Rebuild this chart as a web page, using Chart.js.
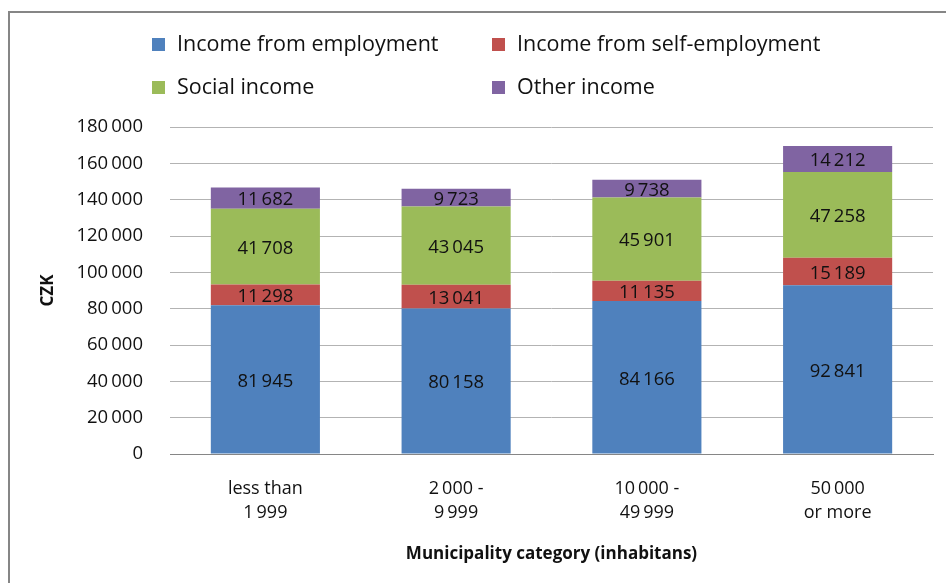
<!DOCTYPE html>
<html>
<head>
<meta charset="utf-8">
<script src="https://cdn.jsdelivr.net/npm/chart.js@4.4.1/dist/chart.umd.min.js"></script>
<style>
  html, body { margin: 0; padding: 0; background: #fff; overflow: hidden; }
  #wrap { width: 946px; height: 583px; position: relative; }
</style>
</head>
<body>
<div id="wrap"><canvas id="incomeChart" width="946" height="583"></canvas></div>
<script>
// household income by municipality size, CZK
const categories = [
  ["less than", "1\u2009999"],
  ["2\u2009000 -", "9\u2009999"],
  ["10\u2009000 -", "49\u2009999"],
  ["50\u2009000", "or more"],
];
const employment = [81945, 80158, 84166, 92841];
const selfEmployment = [11298, 13041, 11135, 15189];
const social = [41708, 43045, 45901, 47258];
const other = [11682, 9723, 9738, 14212];

const seriesNames = [
  "Income from employment",
  "Income from self-employment",
  "Social income",
  "Other income",
];
const seriesColors = ["#4f81bd", "#c0504d", "#9bbb59", "#8064a2"];

const yMax = 180000;
const yStep = 20000;

const fontFamily = "'Open Sans', 'Liberation Sans', sans-serif";

// 180000 -> "180 000" (thin space)
function fmt(v) {
  return String(v).replace(/\B(?=(\d{3})+(?!\d))/g, "\u2009");
}

// outer frame of the chart
const framePlugin = {
  id: "frame",
  beforeDraw(chart) {
    const c = chart.ctx;
    c.save();
    c.strokeStyle = "#868686";
    c.lineWidth = 2;
    c.strokeRect(9, 12, 1200, 1200);
    c.restore();
  },
};

// two-column legend above the plot
const legendPlugin = {
  id: "gridLegend",
  afterDraw(chart) {
    const c = chart.ctx;
    const cols = [152, 492];
    const rows = [45, 88];
    c.save();
    c.font = `21.5px ${fontFamily}`;
    c.textBaseline = "middle";
    c.textAlign = "left";
    chart.data.datasets.forEach((ds, i) => {
      const x = cols[i % 2];
      const y = rows[Math.floor(i / 2)];
      c.fillStyle = ds.backgroundColor;
      c.fillRect(x, y - 7, 13, 13);
      c.fillStyle = "#111";
      c.fillText(ds.label, x + 25, y);
    });
    c.restore();
  },
};

// value printed in the middle of every segment
const valueLabels = {
  id: "valueLabels",
  afterDatasetsDraw(chart) {
    const c = chart.ctx;
    c.save();
    c.font = `18.5px ${fontFamily}`;
    c.fillStyle = "#111";
    c.textAlign = "center";
    c.textBaseline = "middle";
    chart.data.datasets.forEach((ds, i) => {
      chart.getDatasetMeta(i).data.forEach((bar, j) => {
        const p = bar.getCenterPoint();
        c.fillText(fmt(ds.data[j]), p.x, p.y + 2);
      });
    });
    c.restore();
  },
};

const seriesData = [employment, selfEmployment, social, other];

const chart = new Chart(document.getElementById("incomeChart"), {
  type: "bar",
  data: {
    labels: categories,
    datasets: seriesData.map((d, i) => ({
      label: seriesNames[i],
      data: d,
      backgroundColor: seriesColors[i],
      borderWidth: 0,
      categoryPercentage: 1,
      barPercentage: 0.572,
    })),
  },
  options: {
    responsive: false,
    animation: false,
    events: [],
    layout: { padding: { top: 127, right: 13, left: 0, bottom: 0 } },
    plugins: { legend: { display: false }, tooltip: { enabled: false } },
    scales: {
      x: {
        stacked: true,
        grid: { display: false },
        border: { display: true, color: "#868686", width: 1 },
        ticks: {
          padding: 15,
          color: "#111",
          font: { family: fontFamily, size: 18, lineHeight: "24px" },
        },
        title: {
          display: true,
          text: "Municipality category (inhabitans)",
          color: "#111",
          font: { family: fontFamily, size: 17, weight: "bold" },
          padding: { top: 0, bottom: 19 },
        },
        afterFit(s) {
          s.height = 129;
        },
      },
      y: {
        stacked: true,
        min: 0,
        max: yMax,
        grid: { color: "#b3b3b3", drawTicks: false, lineWidth: 1 },
        border: { display: false },
        ticks: {
          stepSize: yStep,
          padding: 27,
          color: "#111",
          font: { family: fontFamily, size: 18.5 },
          callback: (v) => fmt(v),
        },
        title: {
          display: true,
          text: "CZK",
          color: "#111",
          font: { family: fontFamily, size: 17, weight: "bold" },
          padding: { top: 38, bottom: 0 },
        },
        afterFit(s) {
          s.width = 170;
        },
      },
    },
  },
  plugins: [framePlugin, legendPlugin, valueLabels],
});
</script>
</body>
</html>
